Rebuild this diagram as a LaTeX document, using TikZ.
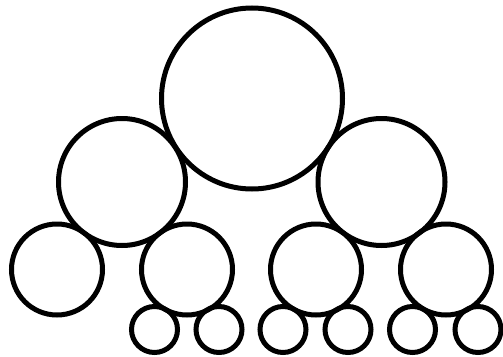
\documentclass[tikz,border=0pt]{standalone}
\begin{document}
\begin{tikzpicture}[x=1pt,y=-1pt,
  ball/.style={circle,draw=black,line width=5pt,inner sep=0pt,outer sep=0pt,minimum size=#1}]
\useasboundingbox[fill=white] (0,0) rectangle (503,356);
\node[ball=181pt] (top) at (252,98.5) {};
\node[ball=127pt] (ml) at (122,182) {};
\node[ball=127pt] (mr) at (381.5,182) {};
\node[ball=91pt] (s1) at (57,269.5) {};
\node[ball=91pt] (s2) at (187,269.5) {};
\node[ball=91pt] (s3) at (316,269.5) {};
\node[ball=91pt] (s4) at (446,269.5) {};
\node[ball=46pt] (t1) at (154.5,329.5) {};
\node[ball=46pt] (t2) at (219,329.5) {};
\node[ball=46pt] (t3) at (283,329.5) {};
\node[ball=46pt] (t4) at (348,329.5) {};
\node[ball=46pt] (t5) at (412.5,329.5) {};
\node[ball=46pt] (t6) at (478,329.5) {};
\end{tikzpicture}
\end{document}
